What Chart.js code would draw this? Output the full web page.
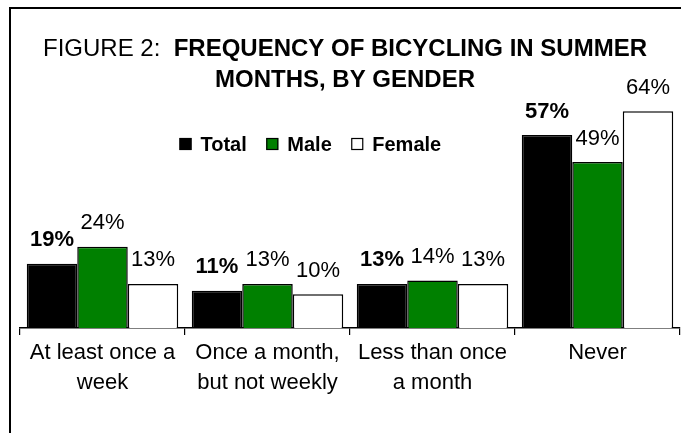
<!DOCTYPE html>
<html>
<head>
<meta charset="utf-8">
<script src="https://cdn.jsdelivr.net/npm/chart.js@4.4.1/dist/chart.umd.min.js"></script>
<style>
  html, body { margin: 0; padding: 0; background: #fff; }
  #wrap { width: 681px; height: 433px; position: relative; }
</style>
</head>
<body>
<div id="wrap"><canvas id="c" width="681" height="433"></canvas></div>
<script>
const categories = [
  ['At least once a', 'week'],
  ['Once a month,', 'but not weekly'],
  ['Less than once', 'a month'],
  ['Never']
];
const seriesNames = ['Total', 'Male', 'Female'];
const totalValues = [19, 11, 13, 57];
const maleValues = [24, 13, 14, 49];
const femaleValues = [13, 10, 13, 64];
const titleNormal = 'FIGURE 2:  ';
const titleBold1 = 'FREQUENCY OF BICYCLING IN SUMMER';
const titleBold2 = 'MONTHS, BY GENDER';

const FONT = "'Liberation Sans', Arial, sans-serif";

const framePlugin = {
  id: 'frame',
  beforeDraw(chart) {
    const ctx = chart.ctx;
    ctx.save();
    ctx.fillStyle = '#fff';
    ctx.fillRect(0, 0, chart.width, chart.height);
    ctx.strokeStyle = '#000';
    ctx.lineWidth = 2;
    ctx.strokeRect(10, 8, 900, 900);
    ctx.restore();
  }
};

const titlePlugin = {
  id: 'customTitle',
  afterDraw(chart) {
    const ctx = chart.ctx;
    ctx.save();
    ctx.fillStyle = '#000';
    ctx.textBaseline = 'alphabetic';
    const cx = 345;
    ctx.font = '24px ' + FONT;
    const wN = ctx.measureText(titleNormal).width;
    ctx.font = 'bold 24px ' + FONT;
    const wB = ctx.measureText(titleBold1).width;
    let x = cx - (wN + wB) / 2;
    ctx.textAlign = 'left';
    ctx.font = '24px ' + FONT;
    ctx.fillText(titleNormal, x, 56);
    ctx.font = 'bold 24px ' + FONT;
    ctx.fillText(titleBold1, x + wN, 56);
    ctx.textAlign = 'center';
    ctx.fillText(titleBold2, cx, 87);
    ctx.restore();
  }
};

const legendPlugin = {
  id: 'customLegend',
  afterDraw(chart) {
    const ctx = chart.ctx;
    ctx.save();
    ctx.font = 'bold 20px ' + FONT;
    ctx.textBaseline = 'alphabetic';
    ctx.textAlign = 'left';
    let x = 179.5;
    chart.data.datasets.forEach((ds, i) => {
      ctx.fillStyle = ds.backgroundColor;
      ctx.fillRect(x, 138, 12, 12);
      ctx.strokeStyle = '#000';
      ctx.lineWidth = 1.2;
      ctx.strokeRect(x + 0.5, 138.5, 11, 11);
      ctx.fillStyle = '#000';
      ctx.fillText(ds.label, x + 21, 151);
      x += 21 + ctx.measureText(ds.label).width + 19.5;
    });
    ctx.restore();
  }
};

const valueLabelPlugin = {
  id: 'valueLabels',
  afterDatasetsDraw(chart) {
    const ctx = chart.ctx;
    ctx.save();
    ctx.fillStyle = '#000';
    ctx.textAlign = 'center';
    ctx.textBaseline = 'alphabetic';
    chart.data.datasets.forEach((ds, i) => {
      const meta = chart.getDatasetMeta(i);
      ctx.font = (i === 0 ? 'bold ' : '') + '22px ' + FONT;
      meta.data.forEach((bar, j) => {
        ctx.fillText(ds.data[j] + '%', bar.x, bar.y - 17.5);
      });
    });
    ctx.restore();
  }
};

new Chart(document.getElementById('c'), {
  type: 'bar',
  data: {
    labels: categories,
    datasets: [
      { label: seriesNames[0], data: totalValues, backgroundColor: '#000000', borderColor: '#000', borderWidth: 1.5 },
      { label: seriesNames[1], data: maleValues, backgroundColor: '#008000', borderColor: '#000', borderWidth: 1.5 },
      { label: seriesNames[2], data: femaleValues, backgroundColor: '#ffffff', borderColor: '#000', borderWidth: 1.5 }
    ]
  },
  options: {
    responsive: false,
    animation: false,
    devicePixelRatio: 1,
    layout: { padding: { left: 20, right: 1, top: 91, bottom: 0 } },
    datasets: { bar: { categoryPercentage: 0.918, barPercentage: 1.0 } },
    plugins: {
      legend: { display: false },
      title: { display: false },
      tooltip: { enabled: false }
    },
    scales: {
      x: {
        offset: true,
        border: { display: true, color: '#000', width: 1.5 },
        grid: { display: true, drawOnChartArea: false, drawTicks: true, tickLength: 7, color: '#000', lineWidth: 1.2, offset: true },
        ticks: { color: '#000', font: { family: FONT, size: 22, lineHeight: 1.36 }, padding: 3, maxRotation: 0, autoSkip: false },
        afterFit(scale) { scale.height = 105; }
      },
      y: {
        display: false,
        min: 0,
        max: 70,
        grid: { display: false }
      }
    }
  },
  plugins: [framePlugin, titlePlugin, legendPlugin, valueLabelPlugin]
});
</script>
</body>
</html>
